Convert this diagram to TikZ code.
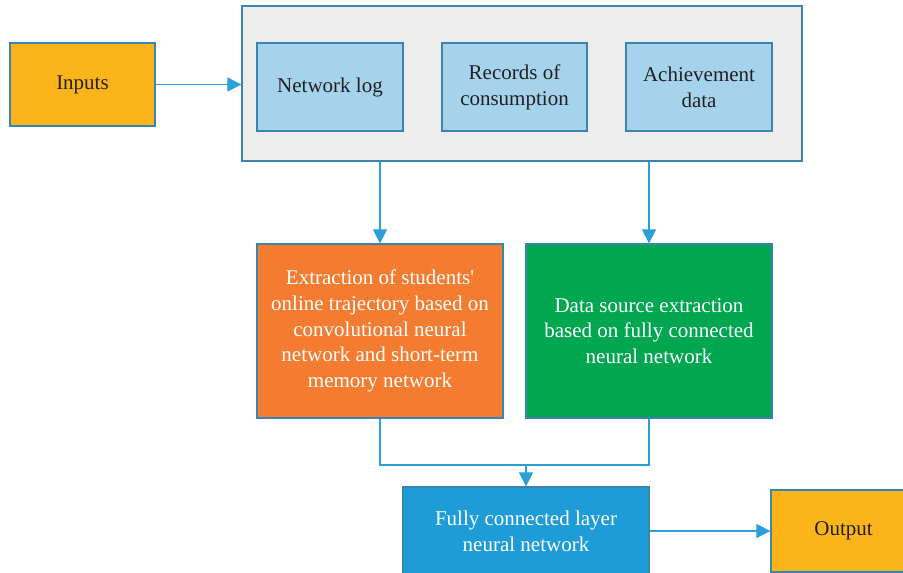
\documentclass[tikz,border=0pt]{standalone}
\usepackage{fontspec}
\setmainfont{Liberation Serif}
\usetikzlibrary{arrows.meta}
\definecolor{bord}{HTML}{3B84B0}
\definecolor{arr}{HTML}{2A9FD8}
\definecolor{inyel}{HTML}{FBB51A}
\definecolor{ltblue}{HTML}{A5D3EC}
\definecolor{outgray}{HTML}{EDEDED}
\definecolor{orng}{HTML}{F47C30}
\definecolor{grn}{HTML}{00A650}
\definecolor{fcblue}{HTML}{1E9CD7}
\definecolor{txt}{HTML}{231F20}
\tikzset{
  box/.style={draw=bord, line width=1.2pt, rectangle, inner sep=0pt, align=center,
    font=\fontsize{21}{25.7}\selectfont},
  darktxt/.style={text=txt},
  lighttxt/.style={text=white},
  conn/.style={draw=arr, line width=1.1pt},
  arrow/.style={conn, -{Triangle[length=14pt,width=14pt]}}
}
\begin{document}
\begin{tikzpicture}[x=1pt,y=-1pt]
\useasboundingbox (0,0) rectangle (903,573);
\node[box, fill=outgray, minimum width=560pt, minimum height=155pt] (outer) at (522,83.5) {};
\node[box, darktxt, fill=inyel, minimum width=145pt, minimum height=83pt] (in) at (82.5,84.5) {Inputs};
\node[box, darktxt, fill=ltblue, minimum width=146pt, minimum height=88pt] (nl) at (330,87) {Network log};
\node[box, darktxt, fill=ltblue, minimum width=145pt, minimum height=88pt] (rc) at (514.5,87) {Records of\\consumption};
\node[box, darktxt, fill=ltblue, minimum width=146pt, minimum height=88pt] (ad) at (699,87) {Achievement\\data};
\node[box, lighttxt, fill=orng, minimum width=246pt, minimum height=174pt] (or) at (380,331) {Extraction of students\textquotesingle\\online trajectory based on\\convolutional neural\\network and short-term\\memory network};
\node[box, lighttxt, fill=grn, minimum width=246pt, minimum height=174pt] (gr) at (649,331) {Data source extraction\\based on fully connected\\neural network};
\node[box, lighttxt, fill=fcblue, minimum width=246pt, minimum height=88pt] (fc) at (526,531) {Fully connected layer\\neural network};
\node[box, darktxt, fill=inyel, minimum width=145pt, minimum height=82pt] (outp) at (843.5,531) {Output};
\coordinate (m) at (526,465);
\draw[arrow] (in.east) -- (outer.west |- in.east);
\draw[arrow] (outer.south -| or.north) -- (or.north);
\draw[arrow] (outer.south -| gr.north) -- (gr.north);
\draw[conn] (or.south) |- (m);
\draw[conn] (gr.south) |- (m);
\draw[arrow] (m) -- (fc.north);
\draw[arrow] (fc.east) -- (outp.west);
\end{tikzpicture}
\end{document}
